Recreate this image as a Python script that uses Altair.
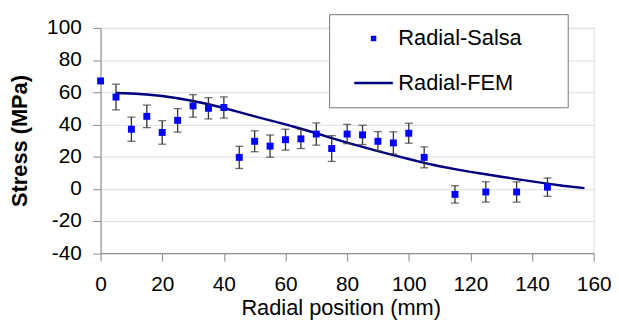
import altair as alt
import pandas as pd

# ---- data ----
salsa_x = [0, 5, 10, 15, 20, 25, 30, 35, 40, 45, 50, 55, 60, 65, 70, 75, 80, 85, 90, 95, 100, 105, 115, 125, 135, 145]
salsa_y = [67, 57, 37, 45, 35, 42.5, 51.5, 50, 50.5, 19.5, 29.5, 26.5, 30.5, 31, 34, 25, 34, 33.5, 29.5, 28.5, 34.5, 19.5, -3.5, -2, -2, 1]
salsa_err = [None, 8, 7.5, 7, 7.3, 7.3, 7, 6.6, 6.6, 6.9, 6.5, 6.9, 6.5, 6, 6.9, 8, 6, 6, 6, 6.9, 6.2, 6.5, 5.4, 6.3, 6.3, 5.7]

fem_x = [5, 10, 15, 20, 25, 30, 35, 40, 45, 50, 55, 60, 65, 70, 75, 80, 85, 90, 95, 100, 105, 110, 115, 120, 125, 130, 135, 140, 145, 150, 157]
fem_y = [59.5, 59.2, 58.6, 57.6, 56.2, 54.5, 52.5, 50.2, 47.6, 45, 42.5, 40, 37.3, 34.5, 31.5, 28.7, 26, 23.4, 20.9, 18.5, 16.1, 14, 12.2, 10.5, 9, 7.5, 6, 4.6, 3.2, 1.9, 0.4]

series_names = ["Radial-Salsa", "Radial-FEM"]
series_colors = ["#0000ff", "#000080"]
# small square for the measured points, a horizontal stroke for the FEM curve (unit-space paths)
series_shapes = ["M-0.154,-0.154L0.154,-0.154L0.154,0.154L-0.154,0.154Z", "M-2,0L2,0"]
x_ticks = [0, 20, 40, 60, 80, 100, 120, 140, 160]
y_ticks = [-40, -20, 0, 20, 40, 60, 80, 100]

df_s = pd.DataFrame({"x": salsa_x, "y": salsa_y, "err": salsa_err})
df_s["series"] = series_names[0]
df_s["lo"] = df_s["y"] - df_s["err"]
df_s["hi"] = df_s["y"] + df_s["err"]
df_e = df_s.dropna(subset=["err"])
df_f = pd.DataFrame({"x": fem_x, "y": fem_y})

FONT = "Liberation Sans"

x_scale = alt.Scale(domain=[0, 160], nice=False, zero=False)
y_scale = alt.Scale(domain=[-40, 100], nice=False, zero=False)
color_scale = alt.Scale(domain=series_names, range=series_colors)
shape_scale = alt.Scale(domain=series_names, range=series_shapes)

x_axis = alt.Axis(values=x_ticks, title="Radial position (mm)", grid=False,
                  tickSize=8, labelPadding=29.5, labelBaseline="alphabetic", labelFlush=False,
                  labelFont=FONT, labelFontSize=21, labelColor="black",
                  titleFont=FONT, titleFontSize=22, titleFontWeight="normal", titleColor="black",
                  titleX=242.5, titleY=61.5, titleBaseline="alphabetic")
y_axis = alt.Axis(values=y_ticks, title="Stress (MPa)", grid=True,
                  tickSize=8, labelPadding=11.5, labelExpr="'' + datum.value",
                  labelFont=FONT, labelFontSize=21, labelColor="black",
                  titleFont=FONT, titleFontSize=22, titleFontWeight="bold", titleColor="black",
                  titleX=-81.5, titleBaseline="middle")

legend = alt.Legend(
    title="\u00a0", titleOrient="left", titleFontSize=1, titlePadding=11.9,
    orient="none", legendX=230.8, legendY=-13.8,
    fillColor="white", strokeColor="#777777", padding=13.5, rowPadding=23,
    labelFont=FONT, labelFontSize=22, labelColor="black",
    symbolSize=380, symbolStrokeWidth=2.5, symbolOffset=8.5, labelOffset=14, symbolOpacity=1,
    labelExpr="datum.label + '\u2800\u2800'",
)

X = lambda f: alt.X(f"{f}:Q", scale=x_scale, axis=x_axis)
Y = lambda f: alt.Y(f"{f}:Q", scale=y_scale, axis=y_axis)

rules = alt.Chart(df_e).mark_rule(color="#333333", strokeWidth=1.3).encode(
    x=X("x"), y=Y("lo"), y2="hi")
caps_lo = alt.Chart(df_e).mark_tick(color="#333333", orient="horizontal", size=8, thickness=1.3).encode(
    x=X("x"), y=Y("lo"))
caps_hi = alt.Chart(df_e).mark_tick(color="#333333", orient="horizontal", size=8, thickness=1.3).encode(
    x=X("x"), y=Y("hi"))
points = alt.Chart(df_s).mark_point(filled=False, opacity=1, size=380).encode(
    x=X("x"), y=Y("y"),
    color=alt.Color("series:N", scale=color_scale, legend=legend),
    shape=alt.Shape("series:N", scale=shape_scale, legend=legend),
    strokeWidth=alt.value(4),
)
line = alt.Chart(df_f).mark_line(strokeWidth=2.5, color=series_colors[1]).encode(
    x=X("x"), y=Y("y"))

chart = alt.layer(line, rules, caps_lo, caps_hi, points).properties(
    width=498, height=227.5,
    autosize=alt.AutoSizeParams(type="none"),
    padding={"left": 93.5, "top": 18.5, "right": 17.5, "bottom": 66},
).configure_view(stroke="#888888", strokeWidth=1).configure_axis(
    domainColor="#444444", tickColor="#444444", gridColor="#999999", gridWidth=1,
    domainWidth=1, tickWidth=1,
).configure(background="white")

chart.save("out.html", embed_options={"renderer": "svg", "actions": False})
